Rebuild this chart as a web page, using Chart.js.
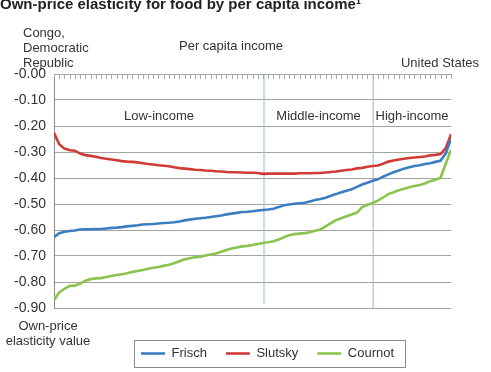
<!DOCTYPE html>
<html>
<head>
<meta charset="utf-8">
<script src="https://cdn.jsdelivr.net/npm/chart.js@4.4.1/dist/chart.umd.min.js"></script>
<style>
  body { margin: 0; background: #fff; }
  #wrap { width: 491px; height: 372px; }
</style>
</head>
<body>
<div id="wrap"><canvas id="elasticity" width="491" height="372"></canvas></div>
<script>
// countries ranked by per capita income, Congo DR (left) to United States (right)
var frisch = [
  -0.628, -0.612, -0.607, -0.604, -0.602, -0.598, -0.597, -0.597, -0.596, -0.596,
  -0.594, -0.592, -0.591, -0.589, -0.586, -0.584, -0.582, -0.579, -0.578, -0.577,
  -0.575, -0.573, -0.572, -0.570, -0.567, -0.563, -0.560, -0.557, -0.555, -0.553,
  -0.550, -0.547, -0.544, -0.540, -0.537, -0.534, -0.531, -0.530, -0.528, -0.525,
  -0.523, -0.521, -0.518, -0.512, -0.505, -0.502, -0.499, -0.497, -0.495, -0.490,
  -0.485, -0.481, -0.476, -0.468, -0.462, -0.455, -0.449, -0.443, -0.434, -0.425,
  -0.418, -0.411, -0.405, -0.395, -0.386, -0.378, -0.371, -0.364, -0.359, -0.354,
  -0.351, -0.346, -0.343, -0.338, -0.334, -0.305, -0.250
];
var slutsky = [
  -0.226, -0.270, -0.287, -0.293, -0.295, -0.306, -0.312, -0.315, -0.318, -0.323,
  -0.326, -0.329, -0.332, -0.335, -0.337, -0.338, -0.340, -0.343, -0.346, -0.348,
  -0.351, -0.353, -0.355, -0.359, -0.362, -0.364, -0.366, -0.368, -0.369, -0.371,
  -0.372, -0.374, -0.375, -0.377, -0.378, -0.378, -0.379, -0.380, -0.380, -0.381,
  -0.384, -0.383, -0.383, -0.383, -0.383, -0.383, -0.383, -0.382, -0.382, -0.382,
  -0.381, -0.381, -0.379, -0.377, -0.375, -0.372, -0.369, -0.367, -0.363, -0.361,
  -0.357, -0.354, -0.352, -0.345, -0.337, -0.333, -0.329, -0.326, -0.323, -0.321,
  -0.319, -0.317, -0.313, -0.311, -0.308, -0.285, -0.232
];
var cournot = [
  -0.870, -0.840, -0.826, -0.815, -0.814, -0.806, -0.795, -0.789, -0.786, -0.785,
  -0.781, -0.777, -0.773, -0.770, -0.766, -0.761, -0.758, -0.754, -0.749, -0.745,
  -0.742, -0.738, -0.734, -0.728, -0.720, -0.713, -0.709, -0.705, -0.703, -0.698,
  -0.694, -0.690, -0.684, -0.677, -0.671, -0.667, -0.663, -0.661, -0.658, -0.654,
  -0.650, -0.647, -0.643, -0.637, -0.628, -0.620, -0.616, -0.614, -0.612, -0.609,
  -0.603, -0.598, -0.586, -0.574, -0.562, -0.555, -0.547, -0.540, -0.533, -0.512,
  -0.503, -0.496, -0.487, -0.475, -0.462, -0.455, -0.447, -0.441, -0.436, -0.431,
  -0.427, -0.421, -0.412, -0.407, -0.399, -0.345, -0.292
];
var seriesNames = ['Frisch', 'Slutsky', 'Cournot'];
var seriesColors = ['#3b7dc0', '#d03b36', '#8cc24e'];

// income group boundaries (position in the country ranking)
var groupNames = ['Low-income', 'Middle-income', 'High-income'];
var groupBounds = [40.2, 61.1];
var groupLineBottom = [-0.885, -0.9];

var countries = frisch.length;
var font = '"Liberation Sans", Arial, Helvetica, sans-serif';
var textColor = '#333333';

function toPoints(values) {
  return values.map(function (v, i) { return { x: i, y: v }; });
}

var datasets = [frisch, slutsky, cournot].map(function (vals, k) {
  return {
    label: seriesNames[k],
    data: toPoints(vals),
    borderColor: seriesColors[k],
    backgroundColor: seriesColors[k],
    borderWidth: 2.6,
    pointRadius: 0,
    tension: 0
  };
});
groupBounds.forEach(function (b, k) {
  datasets.push({
    label: '',
    data: [{ x: b, y: 0 }, { x: b, y: groupLineBottom[k] }],
    borderColor: '#9fc4e6',
    borderWidth: 1.2,
    pointRadius: 0
  });
});

var annotations = {
  id: 'annotations',
  afterLayout: function (chart) {
    // push the legend row to the right like the original
    var lg = chart.legend;
    var w = lg.right - lg.left;
    lg.left = 122;
    lg.right = lg.left + w;
  },
  afterDraw: function (chart) {
    var ctx = chart.ctx;
    var x = chart.scales.x;
    var area = chart.chartArea;
    ctx.save();

    // small category ticks hanging from the top edge
    ctx.strokeStyle = '#a8a8a8';
    ctx.lineWidth = 1;
    for (var i = 0; i < countries; i++) {
      var px = Math.round(x.getPixelForValue(i)) + 0.5;
      ctx.beginPath();
      ctx.moveTo(px, area.top);
      ctx.lineTo(px, area.top + 5);
      ctx.stroke();
    }

    // legend frame
    var lg = chart.legend;
    var itemTop = lg.top + 20 + 19;
    var left = lg.left + 19 - 7;
    var right = lg.left + lg.lineWidths[0] + 11;
    ctx.strokeStyle = '#8a8a8a';
    ctx.strokeRect(Math.round(left) + 0.5, Math.round(itemTop - 7) + 0.5, Math.round(right - left), 27);

    ctx.fillStyle = '#222';
    ctx.font = 'bold 15px ' + font;
    ctx.textAlign = 'left';
    ctx.fillText('Own-price elasticity for food by per capita income\u00b9', 0, 5);

    ctx.fillStyle = textColor;
    ctx.font = '13px ' + font;
    ctx.fillText('Congo,', 23, 33);
    ctx.fillText('Democratic', 23, 48);
    ctx.fillText('Republic', 23, 63);
    ctx.textAlign = 'center';
    ctx.fillText('Per capita income', 231, 46);
    ctx.textAlign = 'right';
    ctx.fillText('United States', 479, 63);

    ctx.textAlign = 'center';
    var edges = [0].concat(groupBounds, [countries - 1]);
    for (var g = 0; g < groupNames.length; g++) {
      var cx = (x.getPixelForValue(edges[g]) + x.getPixelForValue(edges[g + 1])) / 2;
      ctx.fillText(groupNames[g], cx, 116.5);
    }

    ctx.fillText('Own-price', 48, 326);
    ctx.fillText('elasticity value', 48, 341);
    ctx.restore();
  }
};

var chart = new Chart(document.getElementById('elasticity'), {
  type: 'line',
  data: { datasets: datasets },
  options: {
    responsive: false,
    animation: false,
    devicePixelRatio: 1,
    layout: { padding: { top: 74, right: 40, left: 0, bottom: 2 } },
    scales: {
      x: {
        type: 'linear',
        min: 0,
        max: countries - 1,
        display: false
      },
      y: {
        min: -0.9,
        max: 0,
        afterFit: function (scale) { scale.width = 54; },
        ticks: {
          stepSize: 0.1,
          padding: 8,
          color: textColor,
          font: { family: font, size: 14 },
          callback: function (v) { return '-' + Math.abs(v).toFixed(2); }
        },
        grid: { color: '#a3a3a3', drawTicks: false },
        border: { color: '#8c8c8c' }
      }
    },
    plugins: {
      tooltip: { enabled: false },
      legend: {
        position: 'bottom',
        align: 'start',
        title: { display: true, text: ' ', font: { size: 10 }, padding: { top: 0, bottom: 8 } },
        labels: {
          filter: function (item) { return item.text !== ''; },
          usePointStyle: true,
          pointStyle: 'line',
          pointStyleWidth: 24,
          boxHeight: 13,
          padding: 19,
          color: textColor,
          font: { family: font, size: 13 }
        }
      }
    }
  },
  plugins: [annotations]
});
</script>
</body>
</html>
